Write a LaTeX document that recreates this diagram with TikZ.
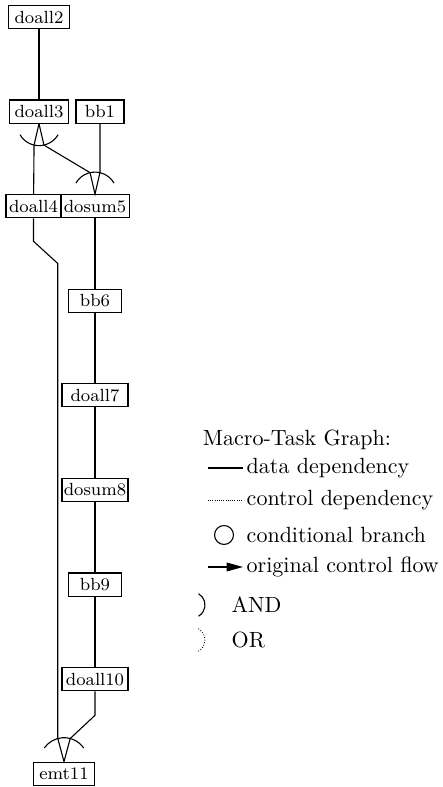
\documentclass[tikz,border=0pt]{standalone}
\usepackage{amsmath}
\usepackage{xcolor}
\usepackage{tikz}
\usetikzlibrary{arrows.meta,shapes,calc}

\begin{document}
\begin{tikzpicture}[x=0.4545pt,y=0.4545pt]
  \tikzset{task/.style = {draw, line width=0.5pt, font=\footnotesize, inner sep=0pt, minimum height=10.5pt}}
  \tikzset{edge/.style = {-, line width=0.5pt}}
  \tikzset{key/.style = {anchor=west, inner sep=1.5pt}}
  \useasboundingbox (0,0) rectangle (442,787);

  % tasks
  \node[task, minimum width=27.7pt] (t2) at (39,770) {doall2};
  \node[task, minimum width=26.8pt] (t3) at (39,675.4) {doall3};
  \node[task, minimum width=21.8pt] (t1) at (100,675.4) {bb1};
  \node[task, minimum width=25pt] (t4) at (33.5,580.8) {doall4};
  \foreach \k/\name/\w in {5/dosum5/31,6/bb6/24,7/doall7/30,8/dosum8/30,9/bb9/24,10/doall10/30}
  {
    \node[task, minimum width=\w pt] (t\k) at (95,{770-94.6*(\k-3)}) {\name};
  }
  \node[task, minimum width=28pt] (t11) at (64,13.2) {emt11};

  % arms and bends
  \coordinate (a3l) at ($(t3.south)+(257:22)$);
  \coordinate (a3r) at ($(t3.south)+(283:22)$);
  \coordinate (a5l) at ($(t5.north)+(103:22)$);
  \coordinate (a5r) at ($(t5.north)+(77:22)$);
  \coordinate (a11l) at ($(t11.north)+(105:24)$);
  \coordinate (a11r) at ($(t11.north)+(75:24)$);
  \coordinate (b4) at ($(t4.south)+(0,-23)$);
  \coordinate (c4) at ($(a11l)+(0,475)$);
  \coordinate (c10) at ($(t10.south)+(0,-24)$);

  % edges
  \draw[edge] (t2) -- (t3);
  \draw[edge] (t3.south) -- (a3l) -- (t4);
  \draw[edge] (t3.south) -- (a3r) -- (a5l) -- (t5.north) -- (a5r) -- (t1);
  \draw[edge] (t4) -- (b4) -- (c4) -- (a11l) -- (t11.north) -- (a11r) -- (c10) -- (t10);
  \foreach \a/\b in {5/6,6/7,7/8,8/9,9/10} {\draw[edge] (t\a) -- (t\b);}

  % AND arcs
  \draw[edge] ($(t3.south)+(210:22)$) arc[start angle=210, end angle=330, radius=22];
  \draw[edge] ($(t5.north)+(30:22)$) arc[start angle=30, end angle=150, radius=22];
  \draw[edge] ($(t11.north)+(35:24)$) arc[start angle=35, end angle=145, radius=24];

  % legend
  \node (title) at (297,347) {Macro-Task Graph:};
  \node[key] (ldata) at (243,319) {data dependency};
  \node[key] (lctrl) at (243,287) {control dependency};
  \node[key] (lcond) at (243,252) {conditional branch};
  \node[key] (lflow) at (243,220) {original control flow};
  \node[key] (land) at (228,182) {AND};
  \node[key] (lor) at (228,147) {OR};
  \coordinate (sdata) at (208,319);
  \coordinate (sctrl) at (208,287);
  \coordinate (sflow) at (208,220);
  \draw[edge] (sdata) -- (ldata);
  \draw[line width=0.4pt, dash pattern=on 0.4pt off 0.6pt] (sctrl) -- (lctrl);
  \node[circle, draw, line width=0.5pt, minimum size=8.6pt, inner sep=0pt] (scond) at (224,252) {};
  \draw[edge, -{Triangle[length=7.5pt,width=4pt]}] (sflow) -- (lflow);
  \draw[edge] (198.5,193.3) arc[start angle=60, end angle=-60, radius=13];
  \draw[line width=0.4pt, dash pattern=on 0.4pt off 0.8pt] (198.5,158.3) arc[start angle=60, end angle=-60, radius=13];
\end{tikzpicture}
\end{document}
